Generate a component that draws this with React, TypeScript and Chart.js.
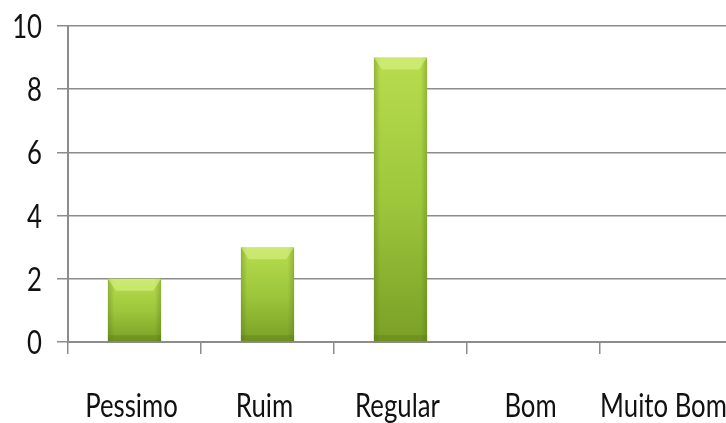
import React, { useEffect, useRef } from "react";
import { Chart, registerables } from "chart.js";

Chart.register(...registerables);

const categories = ["Pessimo", "Ruim", "Regular", "Bom", "Muito Bom"];
const values = [2, 3, 9, 0, 0];
const yTicks = [0, 2, 4, 6, 8, 10];

const LABEL_FONT = "33px Lato, 'DejaVu Sans', sans-serif";
const SQUASH = 0.78;

const bevelPlugin = {
  id: "bevel",
  afterDatasetsDraw(chart: any) {
    const ctx = chart.ctx;
    const meta = chart.getDatasetMeta(0);
    meta.data.forEach((bar: any) => {
      const { x, y, base, width } = bar.getProps(["x", "y", "base", "width"], true);
      const h = base - y;
      if (h <= 0.5) return;
      const l = x - width / 2;
      const r = x + width / 2;
      ctx.save();
      const side = ctx.createLinearGradient(l, 0, r, 0);
      side.addColorStop(0, "rgba(80,110,20,0.35)");
      side.addColorStop(0.12, "rgba(80,110,20,0.0)");
      side.addColorStop(0.88, "rgba(80,110,20,0.0)");
      side.addColorStop(1, "rgba(80,110,20,0.35)");
      ctx.fillStyle = side;
      ctx.fillRect(l, y, width, h);
      const bh = Math.min(12, h * 0.4);
      ctx.beginPath();
      ctx.moveTo(l, y);
      ctx.lineTo(r, y);
      ctx.lineTo(r - 8, y + bh);
      ctx.lineTo(l + 8, y + bh);
      ctx.closePath();
      ctx.fillStyle = "rgba(220,245,140,0.55)";
      ctx.fill();
      const bb = Math.min(6, h * 0.2);
      ctx.fillStyle = "rgba(90,120,20,0.35)";
      ctx.fillRect(l, base - bb, width, bb);
      ctx.restore();
    });
  },
};

const labelPlugin = {
  id: "narrowLabels",
  afterDraw(chart: any) {
    const ctx = chart.ctx;
    const xs = chart.scales.x;
    const ys = chart.scales.y;
    ctx.save();
    ctx.font = LABEL_FONT;
    ctx.fillStyle = "#111";
    ctx.textBaseline = "alphabetic";
    const labels = chart.data.labels as string[];
    labels.forEach((lab, i) => {
      const cx = xs.getPixelForTick(i);
      ctx.save();
      ctx.translate(cx - 3, ys.bottom + 75);
      ctx.scale(SQUASH, 1);
      ctx.textAlign = "center";
      ctx.fillText(lab, 0, 0);
      ctx.restore();
    });
    ys.ticks.forEach((t: any) => {
      const py = ys.getPixelForValue(t.value);
      ctx.save();
      ctx.translate(xs.left - 26, py + 12);
      ctx.scale(SQUASH, 1);
      ctx.textAlign = "right";
      ctx.fillText(String(t.value), 0, 0);
      ctx.restore();
    });
    ctx.restore();
  },
};

export default function App() {
  const ref = useRef<HTMLCanvasElement | null>(null);

  useEffect(() => {
    if (!ref.current) return;
    const chart = new Chart(ref.current, {
      type: "bar",
      data: {
        labels: categories,
        datasets: [
          {
            data: values,
            backgroundColor: (c: any) => {
              const ch = c.chart;
              const ys = ch.scales && ch.scales.y;
              if (!ys || c.parsed == null) return "#9cc63a";
              const top = ys.getPixelForValue(c.parsed.y);
              const bot = ys.getPixelForValue(0);
              if (!isFinite(top) || !isFinite(bot) || bot - top < 1) return "#9cc63a";
              const g = ch.ctx.createLinearGradient(0, top, 0, bot);
              g.addColorStop(0, "#b8dc4e");
              g.addColorStop(0.5, "#9ec73c");
              g.addColorStop(1, "#7a9f26");
              return g;
            },
            borderWidth: 0,
            barPercentage: 1,
            categoryPercentage: 0.4,
          },
        ],
      },
      options: {
        responsive: false,
        animation: false,
        layout: { padding: { top: 26, right: 4, left: 0, bottom: 0 } },
        plugins: { legend: { display: false }, tooltip: { enabled: false } },
        scales: {
          x: {
            grid: {
              display: true,
              drawOnChartArea: false,
              drawTicks: true,
              tickLength: 12,
              color: "#8c8c8c",
              lineWidth: 1.5,
              offset: true,
            },
            border: { display: true, color: "#8c8c8c", width: 2 },
            ticks: {
              color: "rgba(0,0,0,0)",
              font: { size: 12 },
              maxRotation: 0,
              autoSkip: false,
            },
            afterFit: (s: any) => {
              s.height = 81;
              s.paddingLeft = 0;
              s.paddingRight = 0;
            },
          },
          y: {
            min: 0,
            max: 10,
            afterBuildTicks: (s: any) => {
              s.ticks = yTicks.map((v) => ({ value: v }));
            },
            grid: {
              color: "#8c8c8c",
              lineWidth: 1.5,
              tickLength: 11,
            },
            border: { display: true, color: "#8c8c8c", width: 2 },
            ticks: {
              color: "rgba(0,0,0,0)",
              font: { size: 12 },
            },
            afterFit: (s: any) => {
              s.width = 68;
              s.paddingTop = 0;
              s.paddingBottom = 0;
            },
          },
        },
      },
      plugins: [bevelPlugin, labelPlugin],
    });
    return () => chart.destroy();
  }, []);

  return (
    <div
      style={{
        position: "fixed",
        left: 0,
        top: 0,
        width: 726,
        height: 423,
        overflow: "hidden",
        background: "#fff",
      }}
    >
      <canvas ref={ref} width={737} height={423} style={{ display: "block" }} />
    </div>
  );
}
